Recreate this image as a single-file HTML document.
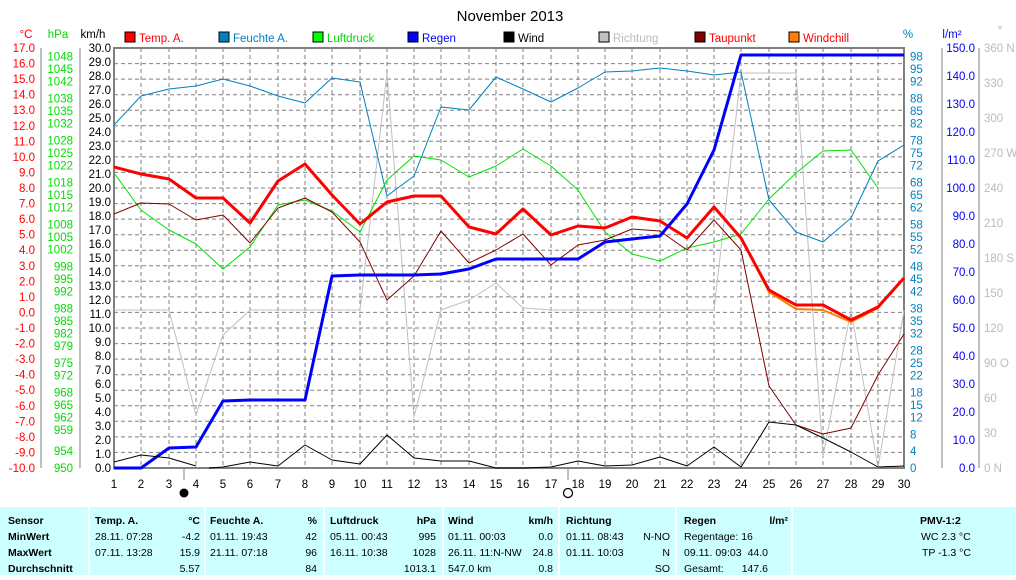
<!DOCTYPE html>
<html><head><meta charset="utf-8"><style>
body{margin:0;background:#fff;width:1016px;height:575px;overflow:hidden;font-family:"Liberation Sans",sans-serif}
svg text{font-family:"Liberation Sans",sans-serif}
</style></head><body>
<svg width="1016" height="575" xmlns="http://www.w3.org/2000/svg" font-size="11.5">
<rect width="1016" height="575" fill="#fff"/>
<text x="510" y="21" font-size="15" text-anchor="middle">November 2013</text>
<text x="26" y="38" fill="#f00" text-anchor="middle">°C</text>
<text x="58" y="38" fill="#0d0" text-anchor="middle">hPa</text>
<text x="93" y="38" text-anchor="middle">km/h</text>
<text x="908" y="38" fill="#0080c0" text-anchor="middle">%</text>
<text x="952" y="38" fill="#00f" text-anchor="middle">l/m²</text>
<text x="1000" y="34" fill="#aaa" text-anchor="middle">°</text>
<g stroke="#000" stroke-width="1">
<rect x="125" y="32" width="10" height="10" fill="#f00"/>
<rect x="219" y="32" width="10" height="10" fill="#0080c0"/>
<rect x="313" y="32" width="10" height="10" fill="#0f0"/>
<rect x="408" y="32" width="10" height="10" fill="#00f"/>
<rect x="504" y="32" width="10" height="10" fill="#000"/>
<rect x="599" y="32" width="10" height="10" fill="#c0c0c0"/>
<rect x="695" y="32" width="10" height="10" fill="#800000"/>
<rect x="789" y="32" width="10" height="10" fill="#ff8000"/>
</g>
<text x="139" y="42" fill="#f00">Temp. A.</text>
<text x="233" y="42" fill="#0080c0">Feuchte A.</text>
<text x="327" y="42" fill="#0d0">Luftdruck</text>
<text x="422" y="42" fill="#00f">Regen</text>
<text x="518" y="42">Wind</text>
<text x="613" y="42" fill="#bbb">Richtung</text>
<text x="709" y="42" fill="#f00">Taupunkt</text>
<text x="803" y="42" fill="#f00">Windchill</text>

<g stroke="#808080" stroke-dasharray="4,3" stroke-width="1">
<path d="M114 63.6H904M114 79.1H904M114 94.7H904M114 110.2H904M114 125.8H904M114 141.3H904M114 156.9H904M114 172.4H904M114 188H904M114 203.6H904M114 219.1H904M114 234.7H904M114 250.2H904M114 265.8H904M114 281.3H904M114 296.9H904M114 312.4H904M114 328H904M114 343.6H904M114 359.1H904M114 374.7H904M114 390.2H904M114 405.8H904M114 421.3H904M114 436.9H904M114 452.4H904"/>
<path d="M141 48V468M169 48V468M196 48V468M223 48V468M250 48V468M278 48V468M305 48V468M332 48V468M360 48V468M387 48V468M414 48V468M441 48V468M469 48V468M496 48V468M523 48V468M551 48V468M578 48V468M605 48V468M632 48V468M660 48V468M687 48V468M714 48V468M741 48V468M769 48V468M796 48V468M823 48V468M851 48V468M878 48V468"/>
</g>
<g stroke="#808080" stroke-width="2" fill="none">
<path d="M114 48H904V468H114Z"/>
</g>
<g stroke="#808080" stroke-width="1">
<path d="M41 48V468M80 48V468M942 48V468M979 48V468"/>
<path d="M184 468V480M568 468V480"/>
</g>

<g fill="none" stroke-linejoin="round">
<polyline stroke="#c0c0c0" stroke-width="1" points="114,310 141,310 169,310 196,415 223,335 250,310 278,310 305,310 332,310 360,310 387,73 414,417 441,310 469,300 496,283 523,308 551,310 578,310 605,310 632,310 660,310 687,310 714,310 741,73 769,73 796,73 823,456 851,310 878,468 904,310"/>
<polyline stroke="#c0c0c0" stroke-width="1" points="878,188 904,188"/>
<polyline stroke="#0080c0" stroke-width="1" points="114,125 141,96 169,89 196,86 223,79 250,86 278,96 305,103 332,78 360,82 387,196 414,176 441,107 469,110 496,77 523,89 551,102 578,88 605,72 632,71 660,68 687,71 714,75 741,72 769,200 796,232 823,242 851,218 878,161 904,145"/>
<polyline stroke="#00e000" stroke-width="1" points="114,173 141,210 169,230 196,244 223,269 250,247 278,205 305,200 332,211 360,232 387,180 414,156 441,160 469,177 496,166 523,149 551,166 578,190 605,232 632,254 660,261 687,248 714,242 741,234 769,199 796,173 823,151 851,150 878,188"/>
<polyline stroke="#800000" stroke-width="1" points="114,214 141,203 169,204 196,220 223,215 250,243 278,208 305,198 332,212 360,242 387,300 414,276 441,231 469,263 496,250 523,234 551,265 578,245 605,240 632,229 660,231 687,250 714,220 741,250 769,386 796,425 823,434 851,428 878,375 904,334"/>
<polyline stroke="#ff8000" stroke-width="2" points="741,238 769,292 796,309 823,310 851,322 878,308 904,278"/>
<polyline stroke="#f00" stroke-width="3" points="114,167 141,174 169,179 196,198 223,198 250,223 278,181 305,164 332,195 360,224 387,202 414,196 441,196 469,227 496,234 523,209 551,235 578,226 605,228 632,217 660,221 687,238 714,207 741,238 769,290 796,305 823,305 851,320 878,307 904,278"/>
<polyline stroke="#00f" stroke-width="3" points="114,468 141,468 169,448 196,447 223,401 250,400 278,400 305,400 332,276 360,275 387,275 414,275 441,274 469,269 496,259 523,259 551,259 578,259 605,242 632,239 660,236 687,204 714,150 741,55 769,55 796,55 823,55 851,55 878,55 904,55"/>
<polyline stroke="#000" stroke-width="1" points="114,462 141,455 169,458 196,466"/>
<polyline stroke="#000" stroke-width="1" points="209,468 223,467 250,462 278,466 305,445 332,460 360,464 387,435 414,458 441,461 469,461 496,468 523,468 551,467 578,461 605,466 632,465 660,457 687,466 714,447 741,467 769,422 796,425 823,438 851,452 878,467 904,466"/>
</g>
<circle cx="184" cy="493" r="4.5" fill="#000"/>
<circle cx="568" cy="493" r="4.5" fill="none" stroke="#000" stroke-width="1.3"/>

<g text-anchor="middle">
<text x="114" y="488">1</text><text x="141" y="488">2</text><text x="169" y="488">3</text><text x="196" y="488">4</text><text x="223" y="488">5</text><text x="250" y="488">6</text><text x="278" y="488">7</text><text x="305" y="488">8</text><text x="332" y="488">9</text><text x="360" y="488">10</text><text x="387" y="488">11</text><text x="414" y="488">12</text><text x="441" y="488">13</text><text x="469" y="488">14</text><text x="496" y="488">15</text><text x="523" y="488">16</text><text x="551" y="488">17</text><text x="578" y="488">18</text><text x="605" y="488">19</text><text x="632" y="488">20</text><text x="660" y="488">21</text><text x="687" y="488">22</text><text x="714" y="488">23</text><text x="741" y="488">24</text><text x="769" y="488">25</text><text x="796" y="488">26</text><text x="823" y="488">27</text><text x="851" y="488">28</text><text x="878" y="488">29</text><text x="904" y="488">30</text>
</g>

<g fill="#f00" text-anchor="end">
<text x="35" y="52">17.0</text><text x="35" y="67.6">16.0</text><text x="35" y="83.1">15.0</text><text x="35" y="98.7">14.0</text><text x="35" y="114.2">13.0</text><text x="35" y="129.8">12.0</text><text x="35" y="145.3">11.0</text><text x="35" y="160.9">10.0</text><text x="35" y="176.4">9.0</text><text x="35" y="192">8.0</text><text x="35" y="207.6">7.0</text><text x="35" y="223.1">6.0</text><text x="35" y="238.7">5.0</text><text x="35" y="254.2">4.0</text><text x="35" y="269.8">3.0</text><text x="35" y="285.3">2.0</text><text x="35" y="300.9">1.0</text><text x="35" y="316.4">0.0</text><text x="35" y="332">-1.0</text><text x="35" y="347.6">-2.0</text><text x="35" y="363.1">-3.0</text><text x="35" y="378.7">-4.0</text><text x="35" y="394.2">-5.0</text><text x="35" y="409.8">-6.0</text><text x="35" y="425.3">-7.0</text><text x="35" y="440.9">-8.0</text><text x="35" y="456.4">-9.0</text><text x="35" y="472">-10.0</text>
</g>
<g fill="#0d0" text-anchor="end">
<text x="73" y="60.4">1048</text><text x="73" y="73">1045</text><text x="73" y="85.6">1042</text><text x="73" y="102.4">1038</text><text x="73" y="115">1035</text><text x="73" y="127.6">1032</text><text x="73" y="144.4">1028</text><text x="73" y="157">1025</text><text x="73" y="169.6">1022</text><text x="73" y="186.4">1018</text><text x="73" y="199">1015</text><text x="73" y="211.6">1012</text><text x="73" y="228.4">1008</text><text x="73" y="241">1005</text><text x="73" y="253.6">1002</text><text x="73" y="270.4">998</text><text x="73" y="283">995</text><text x="73" y="295.6">992</text><text x="73" y="312.4">988</text><text x="73" y="325">985</text><text x="73" y="337.6">982</text><text x="73" y="350.2">979</text><text x="73" y="367">975</text><text x="73" y="379.6">972</text><text x="73" y="396.4">968</text><text x="73" y="409">965</text><text x="73" y="421.6">962</text><text x="73" y="434.2">959</text><text x="73" y="455.2">954</text><text x="73" y="472">950</text>
</g>
<g text-anchor="end">
<text x="111" y="52">30.0</text><text x="111" y="66">29.0</text><text x="111" y="80">28.0</text><text x="111" y="94">27.0</text><text x="111" y="108">26.0</text><text x="111" y="122">25.0</text><text x="111" y="136">24.0</text><text x="111" y="150">23.0</text><text x="111" y="164">22.0</text><text x="111" y="178">21.0</text><text x="111" y="192">20.0</text><text x="111" y="206">19.0</text><text x="111" y="220">18.0</text><text x="111" y="234">17.0</text><text x="111" y="248">16.0</text><text x="111" y="262">15.0</text><text x="111" y="276">14.0</text><text x="111" y="290">13.0</text><text x="111" y="304">12.0</text><text x="111" y="318">11.0</text><text x="111" y="332">10.0</text><text x="111" y="346">9.0</text><text x="111" y="360">8.0</text><text x="111" y="374">7.0</text><text x="111" y="388">6.0</text><text x="111" y="402">5.0</text><text x="111" y="416">4.0</text><text x="111" y="430">3.0</text><text x="111" y="444">2.0</text><text x="111" y="458">1.0</text><text x="111" y="472">0.0</text>
</g>
<g fill="#0080c0">
<text x="910" y="60.4">98</text><text x="910" y="73">95</text><text x="910" y="85.6">92</text><text x="910" y="102.4">88</text><text x="910" y="115">85</text><text x="910" y="127.6">82</text><text x="910" y="144.4">78</text><text x="910" y="157">75</text><text x="910" y="169.6">72</text><text x="910" y="186.4">68</text><text x="910" y="199">65</text><text x="910" y="211.6">62</text><text x="910" y="228.4">58</text><text x="910" y="241">55</text><text x="910" y="253.6">52</text><text x="910" y="270.4">48</text><text x="910" y="283">45</text><text x="910" y="295.6">42</text><text x="910" y="312.4">38</text><text x="910" y="325">35</text><text x="910" y="337.6">32</text><text x="910" y="354.4">28</text><text x="910" y="367">25</text><text x="910" y="379.6">22</text><text x="910" y="396.4">18</text><text x="910" y="409">15</text><text x="910" y="421.6">12</text><text x="910" y="438.4">8</text><text x="910" y="455.2">4</text><text x="910" y="472">0</text>
</g>
<g fill="#00f" text-anchor="end">
<text x="975" y="52">150.0</text><text x="975" y="80">140.0</text><text x="975" y="108">130.0</text><text x="975" y="136">120.0</text><text x="975" y="164">110.0</text><text x="975" y="192">100.0</text><text x="975" y="220">90.0</text><text x="975" y="248">80.0</text><text x="975" y="276">70.0</text><text x="975" y="304">60.0</text><text x="975" y="332">50.0</text><text x="975" y="360">40.0</text><text x="975" y="388">30.0</text><text x="975" y="416">20.0</text><text x="975" y="444">10.0</text><text x="975" y="472">0.0</text>
</g>
<g fill="#bbb">
<text x="984" y="52">360 N</text><text x="984" y="87">330</text><text x="984" y="122">300</text><text x="984" y="157">270 W</text><text x="984" y="192">240</text><text x="984" y="227">210</text><text x="984" y="262">180 S</text><text x="984" y="297">150</text><text x="984" y="332">120</text><text x="984" y="367">90 O</text><text x="984" y="402">60</text><text x="984" y="437">30</text><text x="984" y="472">0 N</text>
</g>

<rect x="0" y="507" width="1016" height="68" fill="#ccffff"/>
<g stroke="#fff" stroke-width="2"><path d="M89 507V575M205 507V575M324 507V575M443 507V575M559 507V575M676 507V575M792 507V575"/></g>
<g font-size="10.5">
<g font-weight="bold"><text x="8" y="524">Sensor</text><text x="8" y="540">MinWert</text><text x="8" y="556">MaxWert</text><text x="8" y="572">Durchschnitt</text>
<text x="95" y="524">Temp. A.</text><text x="210" y="524">Feuchte A.</text><text x="330" y="524">Luftdruck</text><text x="448" y="524">Wind</text><text x="566" y="524">Richtung</text><text x="684" y="524">Regen</text>
<text x="920" y="524">PMV-1:2</text></g>
<g text-anchor="end" font-weight="bold"><text x="200" y="524">°C</text><text x="317" y="524">%</text><text x="436" y="524">hPa</text><text x="553" y="524">km/h</text><text x="788" y="524">l/m²</text></g>
<text x="95" y="540">28.11.  07:28</text><text x="95" y="556">07.11.  13:28</text>
<text x="210" y="540">01.11.  19:43</text><text x="210" y="556">21.11.  07:18</text>
<text x="330" y="540">05.11.  00:43</text><text x="330" y="556">16.11.  10:38</text>
<text x="448" y="540">01.11.  00:03</text><text x="448" y="556">26.11.  11:N-NW</text><text x="448" y="572">547.0 km</text>
<text x="566" y="540">01.11.  08:43</text><text x="566" y="556">01.11.  10:03</text>
<text x="684" y="540">Regentage: 16</text><text x="684" y="556">09.11.  09:03</text><text x="684" y="572">Gesamt:</text>
<g text-anchor="end">
<text x="200" y="540">-4.2</text><text x="200" y="556">15.9</text><text x="200" y="572">5.57</text>
<text x="317" y="540">42</text><text x="317" y="556">96</text><text x="317" y="572">84</text>
<text x="436" y="540">995</text><text x="436" y="556">1028</text><text x="436" y="572">1013.1</text>
<text x="553" y="540">0.0</text><text x="553" y="556">24.8</text><text x="553" y="572">0.8</text>
<text x="670" y="540">N-NO</text><text x="670" y="556">N</text><text x="670" y="572">SO</text>
<text x="768" y="556">44.0</text><text x="768" y="572">147.6</text>
</g>
<text x="921" y="540">WC 2.3 °C</text><text x="922" y="556">TP -1.3 °C</text>
</g>
</svg>
</body></html>
